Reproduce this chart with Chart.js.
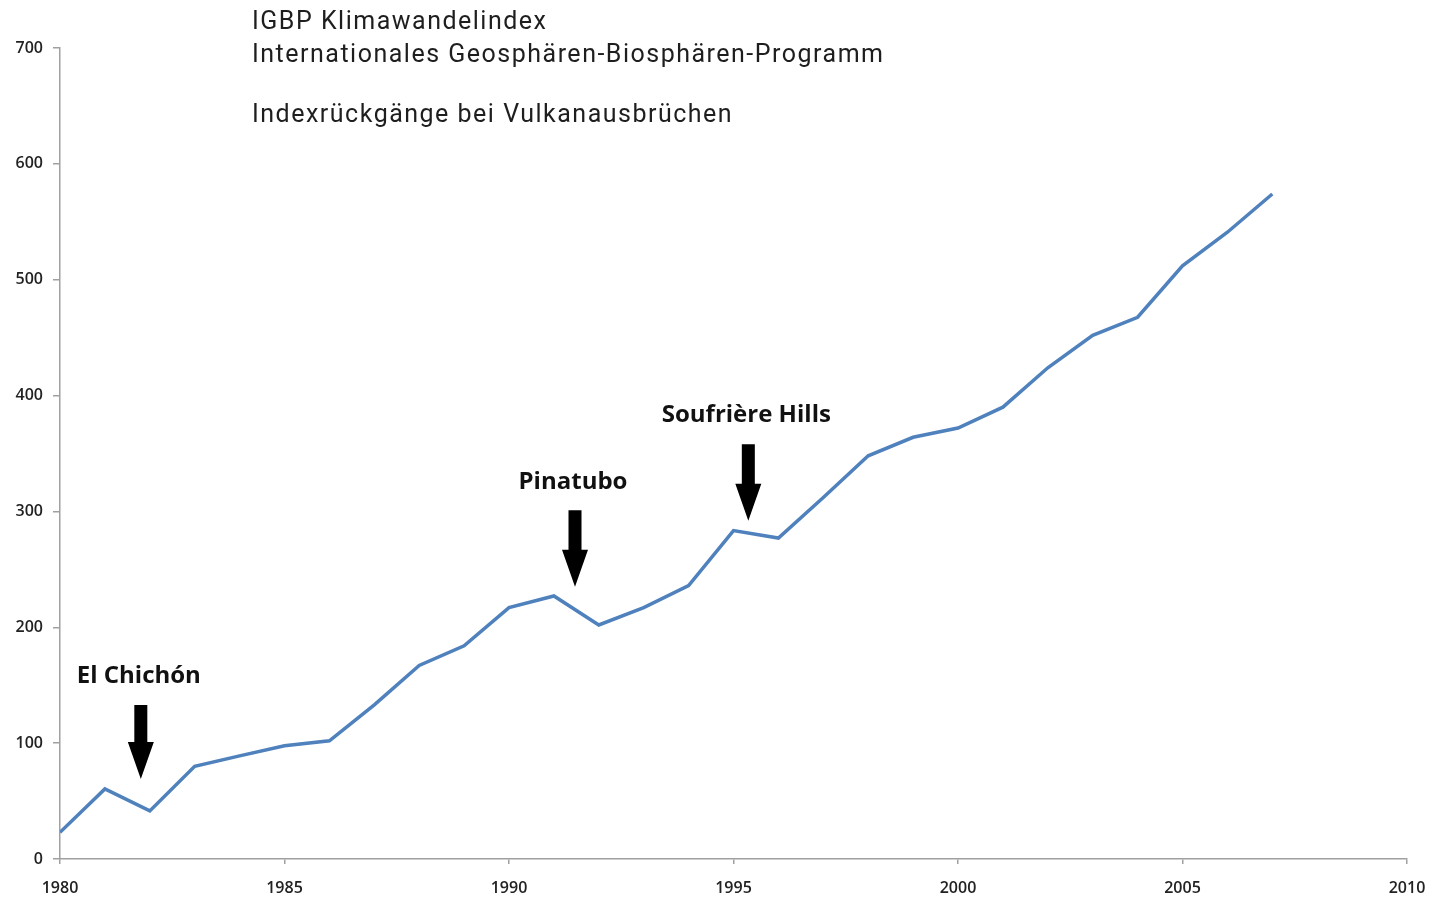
<!DOCTYPE html>
<html>
<head>
<meta charset="utf-8">
<script src="https://cdn.jsdelivr.net/npm/chart.js@4"></script>
<style>
html,body{margin:0;padding:0;background:#fff;}
#wrap{position:relative;width:1430px;height:899px;}
</style>
</head>
<body>
<div id="wrap"><canvas id="c" width="1430" height="899"></canvas></div>
<script>
const years = [1980,1981,1982,1983,1984,1985,1986,1987,1988,1989,1990,1991,1992,1993,1994,1995,1996,1997,1998,1999,2000,2001,2002,2003,2004,2005,2006,2007];
const indexValues = [23,60.5,41.5,80,89,97.7,102,133,167,184,217,227,202,217,236,283.5,277,312,348,364,372,390,424,452,467.6,512,541,574];
const xTicks = [1980,1985,1990,1995,2000,2005,2010];
const yTicks = [0,100,200,300,400,500,600,700];
const titleLines = ["IGBP Klimawandelindex","Internationales Geosphären-Biosphären-Programm","","Indexrückgänge bei Vulkanausbrüchen"];
const eruptionNames = ["El Chichón","Pinatubo","Soufrière Hills"];
const eruptionYears = [1981.8,1991.47,1995.33];
const labelValues = [158,325,383];
const arrowTopValues = [133,301,358];
const arrowTipValues = [69,235,292];

const annotPlugin = {
  id:'annot',
  afterDatasetsDraw(chart){
    const ctx = chart.ctx, xs = chart.scales.x, ys = chart.scales.y;
    ctx.save();
    ctx.fillStyle = '#1e1e1e';
    ctx.font = '400 25px Roboto';
    ctx.letterSpacing = '1.5px';
    ctx.textAlign = 'left'; ctx.textBaseline = 'middle';
    const ty = [23,56,86,116];
    titleLines.forEach((t,i)=>{ if(t) ctx.fillText(t,252,ty[i]); });
    ctx.letterSpacing = '0px';
    eruptionNames.forEach((n,i)=>{
      const x = xs.getPixelForValue(eruptionYears[i]);
      ctx.fillStyle = '#111';
      ctx.font = 'bold 24px "Open Sans"';
      ctx.textAlign='center'; ctx.textBaseline='middle';
      ctx.fillText(n, x-2, ys.getPixelForValue(labelValues[i]));
      const top = ys.getPixelForValue(arrowTopValues[i]);
      const tip = ys.getPixelForValue(arrowTipValues[i]);
      const headLen = 37, sw = 6.5, hw = 13;
      const hs = tip - headLen;
      ctx.fillStyle = '#000';
      ctx.beginPath();
      ctx.moveTo(x-sw, top); ctx.lineTo(x+sw, top); ctx.lineTo(x+sw, hs);
      ctx.lineTo(x+hw, hs); ctx.lineTo(x, tip); ctx.lineTo(x-hw, hs);
      ctx.lineTo(x-sw, hs); ctx.closePath(); ctx.fill();
    });
    ctx.restore();
  }
};

new Chart(document.getElementById('c'), {
  type:'line',
  data:{ datasets:[{
    data: years.map((y,i)=>({x:y,y:indexValues[i]})),
    borderColor:'#4f81bd', borderWidth:3.5, pointRadius:0, tension:0, fill:false
  }]},
  options:{
    responsive:false, animation:false,
    layout:{padding:{top:48,right:23,left:0,bottom:0}},
    plugins:{legend:{display:false},tooltip:{enabled:false},title:{display:false}},
    scales:{
      x:{type:'linear',min:1980,max:2010,
        afterBuildTicks(s){ s.ticks = xTicks.map(v=>({value:v})); },
        afterFit(s){ s.height = 40; s.paddingLeft = 0; s.paddingRight = 0; },
        border:{display:true,color:'#a0a0a0',width:1.5},
        grid:{display:true,drawOnChartArea:false,drawTicks:true,tickLength:5,color:'#a0a0a0',lineWidth:1.5},
        ticks:{callback:v=>String(v),color:'#222',font:{family:'"Open Sans"',size:16,weight:'600'},padding:15,maxRotation:0}
      },
      y:{min:0,max:700,
        afterBuildTicks(s){ s.ticks = yTicks.map(v=>({value:v})); },
        afterFit(s){ s.width = 60; s.paddingTop = 0; s.paddingBottom = 0; },
        border:{display:true,color:'#a0a0a0',width:1.5},
        grid:{display:true,drawOnChartArea:false,drawTicks:true,tickLength:7,color:'#a0a0a0',lineWidth:1.5},
        ticks:{callback:v=>String(v),color:'#222',font:{family:'"Open Sans"',size:16,weight:'600'},padding:10}
      }
    }
  },
  plugins:[annotPlugin]
});
</script>
</body>
</html>
